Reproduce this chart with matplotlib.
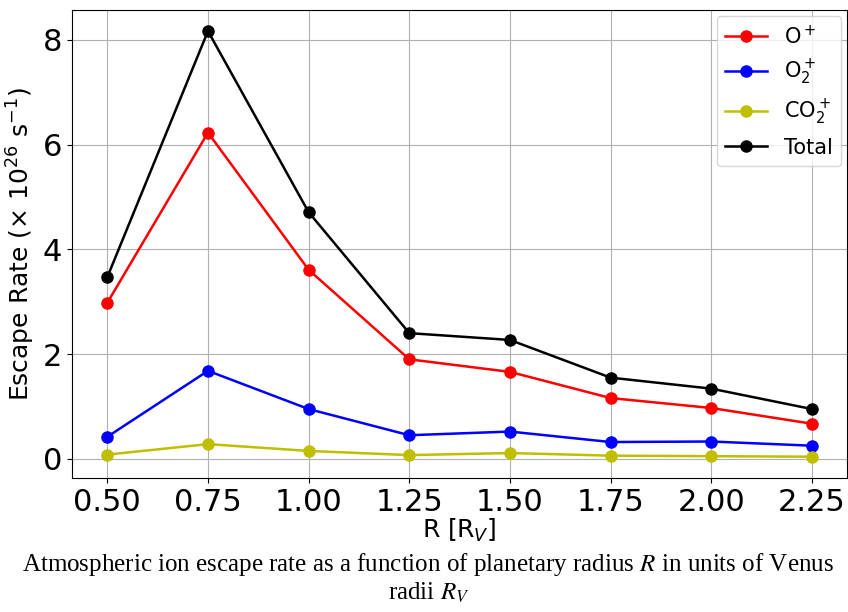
## Escape rate vs planetary radius, recreated with matplotlib
import numpy as np
import matplotlib
matplotlib.use("Agg")
import matplotlib.pyplot as plt

####### Data #######
radius = [0.50, 0.75, 1.00, 1.25, 1.50, 1.75, 2.00, 2.25]
o_plus = [2.98, 6.23, 3.61, 1.90, 1.66, 1.16, 0.97, 0.67]
o2_plus = [0.42, 1.68, 0.95, 0.45, 0.52, 0.32, 0.33, 0.25]
co2_plus = [0.08, 0.28, 0.15, 0.07, 0.11, 0.06, 0.05, 0.04]
total = [3.47, 8.17, 4.71, 2.40, 2.27, 1.55, 1.34, 0.95]

series = [(o_plus, 'r', r'O$^+$'),
          (o2_plus, 'b', r'O$_2^+$'),
          (co2_plus, 'y', r'CO$_2^+$'),
          (total, 'k', 'Total')]

####### Plot #######
fig = plt.figure(figsize=(8.48, 6.12), dpi=100)
ax = fig.add_axes([0.085, 0.219, 0.914, 0.765])

for vals, col, lab in series:
    ax.plot(radius, vals, '-o', color=col, label=lab, lw=1.8, ms=8)

ax.set_xticks(radius)
ax.set_xticklabels(["%.2f" % r for r in radius])
ax.set_yticks([0, 2, 4, 6, 8])
ax.tick_params(labelsize=22)
ax.set_xlabel(r'R [R$_V$]', fontsize=18, labelpad=0)
ax.set_ylabel(r'Escape Rate ($\times$ 10$^{26}$ s$^{-1}$)', fontsize=18)
ax.grid(True)
ax.legend(loc='upper right', fontsize=15, borderaxespad=0.3)

# caption below the figure
cap = dict(ha='center', va='center', fontsize=18, family='Liberation Serif',
           math_fontfamily='stix')
fig.text(0.505, 0.077, r'Atmospheric ion escape rate as a function of planetary radius $R$ in units of Venus', **cap)
fig.text(0.505, 0.032, r'radii $R_V$', **cap)

fig.savefig('out.png', dpi=100)
